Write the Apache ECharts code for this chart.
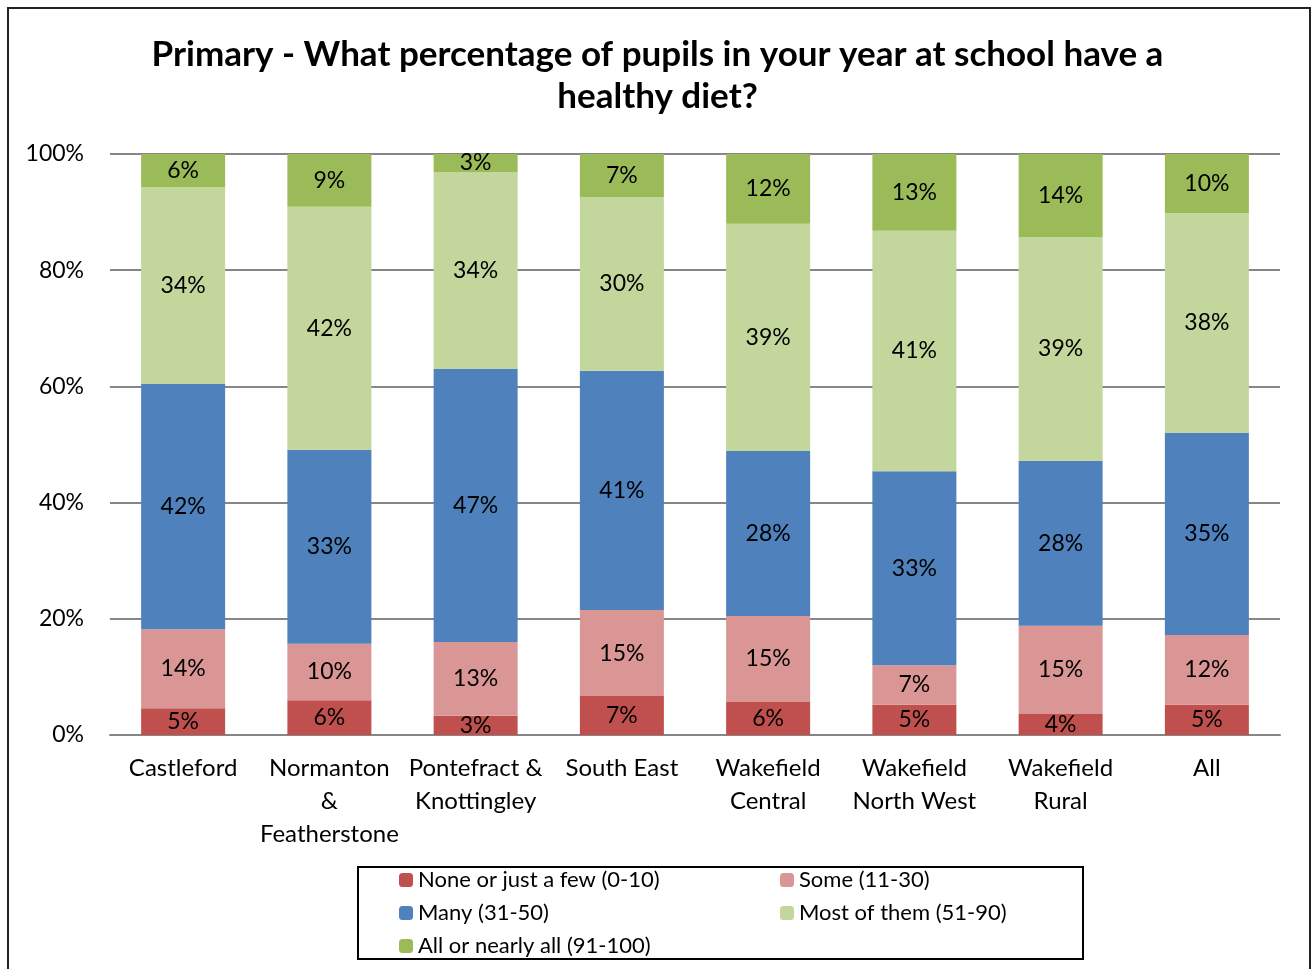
<!DOCTYPE html>
<html>
<head>
<meta charset="utf-8">
<script src="https://cdn.jsdelivr.net/npm/echarts@6/dist/echarts.min.js"></script>
<style>
html, body { margin: 0; padding: 0; background: #fff; }
#main { width: 1315px; height: 969px; }
</style>
</head>
<body>
<div id="main"></div>
<script>
var regions = ['Castleford', 'Normanton\n&\nFeatherstone', 'Pontefract &\nKnottingley', 'South East',
	'Wakefield\nCentral', 'Wakefield\nNorth West', 'Wakefield\nRural', 'All'];
var noneFew = [4.6, 6.0, 3.3, 6.7, 5.7, 5.2, 3.6, 5.2];
var some = [13.6, 9.7, 12.7, 14.8, 14.8, 6.8, 15.2, 12.0];
var many = [42.2, 33.4, 47.0, 41.2, 28.4, 33.4, 28.4, 34.8];
var most = [33.9, 41.8, 33.9, 29.9, 39.1, 41.4, 38.5, 37.8];
var allNearly = [5.7, 9.1, 3.1, 7.4, 12.0, 13.2, 14.3, 10.2];
var yTicks = [0, 20, 40, 60, 80, 100];

var font = 'Lato, "Open Sans", sans-serif';
var myChart = echarts.init(document.getElementById('main'));

function mkSeries(name, data, color) {
	return {
		name: name,
		type: 'bar',
		stack: 'total',
		barWidth: 84,
		data: data,
		itemStyle: { color: color },
		label: {
			show: true,
			position: 'inside',
			color: '#000',
			fontFamily: font,
			fontSize: 23,
			formatter: function (p) { return Math.round(p.value) + '%'; }
		}
	};
}

var legendText = { fontFamily: font, fontSize: 22, color: '#000' };

var option = {
	animation: false,
	title: {
		text: 'Primary - What percentage of pupils in your year at school have a\nhealthy diet?',
		left: 'center',
		top: 29,
		textStyle: { fontFamily: font, fontSize: 35, fontWeight: 'bold', color: '#000', lineHeight: 42 }
	},
	grid: { left: 110, right: 35, top: 154, bottom: 234, containLabel: false },
	xAxis: {
		type: 'category',
		data: regions,
		axisLine: { lineStyle: { color: '#868686', width: 2 } },
		axisTick: { show: false },
		axisLabel: { color: '#000', fontFamily: font, fontSize: 24, lineHeight: 33, margin: 17, interval: 0 }
	},
	yAxis: {
		type: 'value',
		min: 0,
		max: 100,
		interval: 20,
		axisLine: { show: false },
		axisTick: { show: false },
		splitLine: { lineStyle: { color: '#868686', width: 2 } },
		axisLabel: {
			color: '#000', fontFamily: font, fontSize: 23, margin: 26,
			formatter: function (v) { return yTicks.indexOf(v) >= 0 ? v + '%' : ''; }
		}
	},
	legend: [{
		orient: 'vertical',
		left: 394,
		top: 864,
		itemGap: 11,
		itemWidth: 14,
		itemHeight: 14,
		textStyle: legendText,
		data: ['None or just a few (0-10)', 'Many (31-50)', 'All or nearly all (91-100)']
	}, {
		orient: 'vertical',
		left: 775,
		top: 864,
		itemGap: 11,
		itemWidth: 14,
		itemHeight: 14,
		textStyle: legendText,
		data: ['Some (11-30)', 'Most of them (51-90)']
	}],
	graphic: [{
		type: 'rect',
		shape: { x: 8, y: 8, width: 1302, height: 980 },
		style: { fill: null, stroke: '#222', lineWidth: 2 }
	}, {
		type: 'rect',
		shape: { x: 358, y: 867, width: 725, height: 92 },
		style: { fill: null, stroke: '#000', lineWidth: 2 }
	}],
	series: [
		mkSeries('None or just a few (0-10)', noneFew, '#C0504D'),
		mkSeries('Some (11-30)', some, '#D99694'),
		mkSeries('Many (31-50)', many, '#4F81BD'),
		mkSeries('Most of them (51-90)', most, '#C3D69B'),
		mkSeries('All or nearly all (91-100)', allNearly, '#9BBB59')
	]
};
myChart.setOption(option);
</script>
</body>
</html>
